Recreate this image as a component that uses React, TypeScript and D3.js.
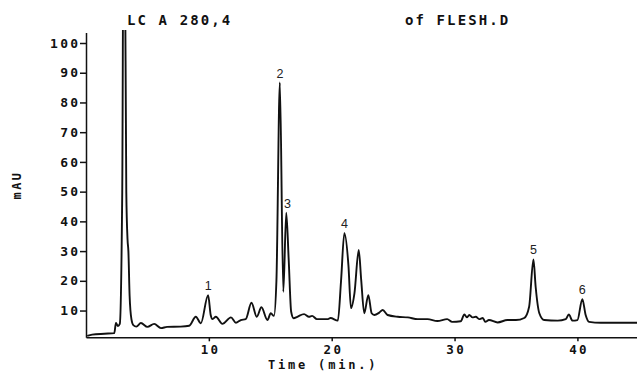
import { useEffect, useRef } from "react";
import * as d3 from "d3";

// retention time (min) and absorbance (mAU)
const times = [
  0.1, 0.5, 1.5, 2.3, 2.44, 2.6, 2.75, 2.95, 3.05, 3.15, 3.28, 3.38, 3.45, 3.55, 3.7, 3.85,
  4.1, 4.47, 5.0, 5.55, 6.1, 6.6, 7.7, 8.4, 8.94, 9.35, 9.94, 10.15, 10.3, 10.57, 11.1,
  11.8, 12.2, 12.6, 13.0, 13.47, 13.9, 14.28, 14.77, 15.04, 15.3, 15.5, 15.78, 16.06,
  16.3, 16.5, 16.7, 16.9, 17.2, 17.75, 18.15, 18.4, 18.8, 19.7, 19.9, 20.5, 20.76, 21.03,
  21.36, 21.57, 21.85, 22.2, 22.4, 22.65, 22.98, 23.25, 23.47, 23.87, 24.15, 24.55, 25.37,
  26.2, 27.0, 27.8, 28.6, 29.4, 29.8, 30.5, 30.8, 31.0, 31.2, 31.46, 31.73, 32.0, 32.3,
  32.5, 32.8, 33.5, 34.3, 35.0, 35.67, 36.07, 36.42, 36.6, 36.9, 37.3, 38.4, 39.05, 39.3,
  39.6, 40.0, 40.4, 40.67, 40.95, 41.9, 43.5, 44.85,
];
const absorbance = [
  1.5, 1.9, 2.2, 2.4, 5.8, 4.8, 5.5, 50, 140, 140, 50, 34, 30, 15, 7, 5.1,
  4.6, 5.8, 4.5, 5.5, 4.1, 4.5, 4.6, 4.9, 7.9, 5.7, 15.2, 8.5, 7.1, 7.9, 5.5,
  7.7, 5.9, 6.8, 7.1, 12.6, 7.9, 11.1, 6.8, 9.1, 8.2, 20, 86.7, 16.3,
  42.9, 27, 9.6, 7.4, 7.9, 8.8, 7.9, 8.2, 7.1, 7.1, 7.5, 6.6, 20, 36,
  25.3, 10.8, 15.8, 30.4, 20.3, 9.1, 15.2, 9.1, 8.5, 9.3, 10.2, 8.5, 7.9,
  7.7, 7.1, 7.1, 6.5, 7.1, 6.2, 6.4, 8.7, 7.7, 8.5, 7.7, 7.9, 7.1, 7.5,
  6.2, 6.8, 6.0, 6.8, 6.8, 7.5, 11.3, 27.2, 18, 9.1, 6.8, 6.6, 7.1, 8.7,
  6.6, 6.8, 13.8, 8.5, 6.2, 5.9, 5.9, 5.9,
];

const peakLabels = ["1", "2", "3", "4", "5", "6"];
const peakTimes = [9.94, 15.78, 16.4, 21.03, 36.42, 40.4];
const peakHeights = [15.2, 86.7, 42.9, 36, 27.2, 13.8];

const xTicks = [10, 20, 30, 40];
const yTicks = [10, 20, 30, 40, 50, 60, 70, 80, 90, 100];

const plotter = "'DejaVu Sans Mono', monospace";

const App = () => {
  const svgRef = useRef<SVGSVGElement>(null);
  const width = 637;
  const height = 371;

  useEffect(() => {
    const svg = d3.select(svgRef.current);
    svg.selectAll("*").remove();

    const x = d3.scaleLinear().domain([0, 44.85]).range([86, 637]);
    const y = d3.scaleLinear().domain([1, 103.5]).range([337.3, 32.6]);

    const data = times.map((t, i) => ({ t, v: absorbance[i] }));

    // minor ticks
    const xMinor = d3.range(2, 45, 2);
    const yMinor = d3.range(2, 104, 2);

    const gx = svg.append("g").attr("transform", `translate(0, ${y(1)})`);
    gx.call(d3.axisBottom(x).tickValues(xMinor).tickSize(4).tickSizeOuter(0).tickFormat(() => ""));
    gx.call(d3.axisBottom(x).tickValues(xTicks).tickSize(4).tickSizeOuter(0).tickPadding(4));
    gx.selectAll("path, line").attr("stroke", "#111").attr("stroke-width", 1.5);
    gx.selectAll("text")
      .attr("font-family", plotter)
      .attr("font-weight", "bold")
      .attr("font-size", 12.5)
      .attr("letter-spacing", 2.4)
      .attr("dx", 1.2)
      .attr("fill", "#111");

    const gy = svg.append("g").attr("transform", `translate(${x(0)}, 0)`);
    gy.call(d3.axisLeft(y).tickValues(yMinor).tickSize(3).tickSizeOuter(0).tickFormat(() => ""));
    gy.call(d3.axisLeft(y).tickValues(yTicks).tickSize(6).tickSizeOuter(0).tickPadding(2));
    gy.selectAll("path, line").attr("stroke", "#111").attr("stroke-width", 1.5);
    gy.selectAll("text")
      .attr("font-family", plotter)
      .attr("font-weight", "bold")
      .attr("font-size", 13)
      .attr("letter-spacing", 2.2)
      .attr("dx", 2.2)
      .attr("fill", "#111");

    svg.append("clipPath").attr("id", "plot-clip")
      .append("rect")
      .attr("x", x(0))
      .attr("y", 30)
      .attr("width", x(44.85) - x(0))
      .attr("height", y(1) - 30);

    const line = d3.line<{ t: number; v: number }>()
      .x(d => x(d.t))
      .y(d => y(d.v))
      .curve(d3.curveMonotoneX);

    svg.append("path")
      .datum(data)
      .attr("clip-path", "url(#plot-clip)")
      .attr("fill", "none")
      .attr("stroke", "#111")
      .attr("stroke-width", 1.9)
      .attr("stroke-linejoin", "round")
      .attr("d", line);

    svg.selectAll(".peak")
      .data(peakLabels)
      .enter()
      .append("text")
      .attr("class", "peak")
      .attr("x", (_d, i) => x(peakTimes[i]))
      .attr("y", (_d, i) => y(peakHeights[i]) - 5)
      .attr("text-anchor", "middle")
      .attr("font-family", "'Liberation Sans', Arial, sans-serif")
      .attr("font-size", 12.5)
      .attr("fill", "#222")
      .text(d => d);

    const title = (txt: string, tx: number) =>
      svg.append("text")
        .attr("x", tx)
        .attr("y", 25)
        .attr("font-family", plotter)
        .attr("font-weight", "bold")
        .attr("font-size", 14)
        .attr("letter-spacing", 2.1)
        .attr("fill", "#111")
        .text(txt);
    title("LC A 280,4", 127);
    title("of FLESH.D", 405);

    svg.append("text")
      .attr("x", 268)
      .attr("y", 369)
      .attr("font-family", plotter)
      .attr("font-weight", "bold")
      .attr("font-size", 12)
      .attr("letter-spacing", 2.8)
      .attr("fill", "#111")
      .text("Time (min.)");

    svg.append("text")
      .attr("transform", "translate(21, 185) rotate(-90)")
      .attr("text-anchor", "middle")
      .attr("font-family", plotter)
      .attr("font-weight", "bold")
      .attr("font-size", 12)
      .attr("letter-spacing", 2.4)
      .attr("fill", "#111")
      .text("mAU");
  }, []);

  return (
    <div>
      <svg
        ref={svgRef}
        width={width}
        height={height}
        style={{ position: "absolute", left: 0, top: 0, background: "#fff" }}
      />
    </div>
  );
};

export default App;
